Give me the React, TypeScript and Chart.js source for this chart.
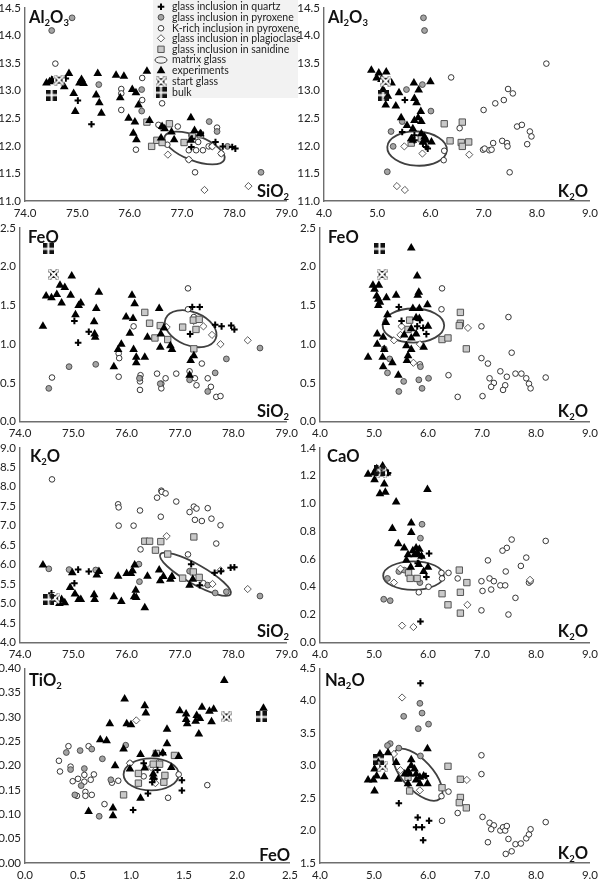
import React, { useEffect, useRef } from "react";
import { Chart, registerables } from "chart.js";
import { drawPoint } from "chart.js/helpers";

Chart.register(...registerables);

type Pt = [number, number];

// ---------- Al2O3 vs SiO2 ----------
const alSi_quartz: Pt[] = [[75.01,12.82],[75.27,12.39],[74.78,13.22],[74.52,13.2],[77.18,11.98],[77.19,12.13],[77.36,12.23],[77.64,12.07],[77.78,11.99],[77.96,11.98],[78.02,11.95]];
const alSi_pyrox: Pt[] = [[74.51,14.09],[74.9,14.32],[75.41,13.11],[76.23,13.02],[76.23,12.63],[77.52,12.44],[78.51,11.52],[77.67,12.26],[77.87,11.99]];
const alSi_krich: Pt[] = [[74.58,13.49],[75.84,13.03],[75.84,12.95],[75.84,12.65],[76.24,13.23],[76.24,12.83],[76.62,12.77],[76.12,11.93],[76.55,12.38],[76.62,12.33],[76.92,12.35],[77.67,12.33],[77.13,11.92],[77.27,11.92],[77.4,11.92],[77.13,11.75],[77.25,11.52],[77.31,12.07],[77.51,11.99],[77.57,11.99],[77.75,11.86],[77.18,12.19],[76.72,12.02],[76.62,12.07]];
const alSi_plag: Pt[] = [[76.73,11.84],[77.43,11.2],[78.27,11.27],[77.13,11.75],[77.75,11.86],[77.58,11.99]];
const alSi_san: Pt[] = [[76.33,12.43],[76.76,12.4],[76.42,11.99],[76.52,12.1],[76.62,12.06],[77.04,12.06],[77.2,12.17],[77.35,12.2]];
const alSi_exp: Pt[] = [[74.41,13.14],[74.47,13.16],[74.51,13.19],[74.75,13.07],[74.84,13.31],[74.93,12.95],[74.96,12.62],[75.08,13.2],[75.04,13.14],[75.12,13.13],[75.36,12.92],[75.39,13.31],[75.42,12.78],[75.46,12.59],[75.74,13.28],[75.89,13.26],[75.82,12.87],[75.98,12.5],[76.05,13.02],[76.12,12.96],[76.1,12.43],[76.07,12.23],[76.13,12.11],[76.17,12.74],[76.38,12.46],[76.33,13.35],[76.6,12.14],[76.62,12.35],[76.67,12.31],[76.85,12.11],[76.8,12.25],[77.17,12.51],[77.24,12.28],[77.17,12.1],[77.35,12.22]];
const alSi_start: Pt[] = [[74.65,13.19]];
const alSi_bulk: Pt[] = [[74.51,12.92]];

// ---------- Al2O3 vs K2O ----------
const alK_quartz: Pt[] = [[5.52,12.83],[5.47,12.25],[5.92,11.98],[5.7,12.19],[5.86,12.04],[5.7,12.1],[5.95,11.95]];
const alK_pyrox: Pt[] = [[5.87,14.32],[5.89,14.09],[5.55,13.02],[5.85,13.11],[6.01,12.63],[5.47,12.44],[5.26,12.26],[5.3,11.99],[5.19,11.53]];
const alK_krich: Pt[] = [[8.18,13.49],[7.46,13.03],[7.55,12.95],[7.38,12.83],[7.22,12.77],[7.0,12.65],[6.39,13.24],[6.55,12.32],[7.63,12.35],[7.72,12.38],[7.87,12.26],[7.9,12.17],[7.35,12.09],[7.44,12.05],[7.45,11.99],[7.82,12.03],[7.18,12.05],[6.99,11.93],[7.02,11.95],[7.11,11.92],[7.15,11.93],[6.26,11.91],[6.25,11.74],[7.49,11.52]];
const alK_plag: Pt[] = [[5.51,11.99],[5.85,11.86],[6.73,11.84],[5.37,11.27],[5.52,11.2]];
const alK_san: Pt[] = [[6.26,12.4],[6.6,12.43],[6.37,12.09],[6.58,12.06],[6.72,12.07],[6.6,11.99],[5.64,12.05],[5.83,12.13]];
const alK_exp: Pt[] = [[4.89,13.37],[5.03,13.32],[4.99,13.23],[5.17,13.34],[5.08,13.2],[5.27,13.14],[5.11,13.02],[5.2,12.9],[5.16,12.74],[5.35,12.72],[5.41,12.96],[5.69,13.14],[5.78,13.01],[6.0,13.16],[5.7,12.86],[5.74,12.78],[5.82,12.62],[5.45,12.51],[5.7,12.46],[5.83,12.44],[5.56,12.37],[5.67,12.31],[5.83,12.22],[5.64,12.13],[5.89,12.16],[5.67,12.1],[5.92,12.1],[6.02,12.07],[5.86,12.07],[5.77,12.51]];
const alK_start: Pt[] = [[5.16,13.17]];
const alK_bulk: Pt[] = [[5.11,12.92]];

// ---------- FeO vs SiO2 ----------
const feSi_quartz: Pt[] = [[75.02,1.3],[75.29,1.16],[75.09,1.02],[77.23,1.48],[77.37,1.48],[77.19,1.13],[77.66,1.25],[77.78,1.23],[77.96,1.24],[78.02,1.19]];
const feSi_pyrox: Pt[] = [[74.54,0.43],[74.92,0.71],[75.42,0.74],[76.24,0.56],[76.63,0.49],[77.18,0.54],[77.66,0.63],[77.52,0.39],[77.87,0.81],[78.5,0.95]];
const feSi_krich: Pt[] = [[74.6,0.57],[75.85,0.88],[75.86,0.82],[75.85,0.58],[76.13,1.23],[76.26,0.6],[76.25,0.56],[76.25,0.52],[76.25,0.41],[76.57,0.62],[76.65,0.49],[76.65,0.43],[76.73,0.56],[76.93,0.62],[77.15,1.72],[77.15,1.45],[77.26,1.35],[77.18,0.65],[77.28,0.56],[77.31,0.47],[77.41,0.75],[77.52,0.56],[77.58,0.45],[77.68,0.32],[77.76,0.33]];
const feSi_plag: Pt[] = [[76.75,1.22],[77.44,1.23],[77.6,1.12],[77.76,1.0],[78.27,1.05],[77.26,1.3]];
const feSi_san: Pt[] = [[76.34,1.41],[76.43,1.27],[76.63,1.24],[76.53,1.08],[76.77,1.06],[77.05,1.22],[77.25,1.31],[77.36,1.32],[77.3,1.19],[77.26,0.94]];
const feSi_exp: Pt[] = [[74.43,1.23],[74.49,1.62],[74.59,1.6],[74.69,1.64],[74.75,1.76],[74.84,1.73],[74.97,1.88],[74.95,1.63],[74.78,1.53],[75.04,1.38],[75.1,1.5],[75.14,1.53],[75.48,1.67],[75.43,1.46],[75.39,1.29],[75.4,1.13],[75.41,1.09],[75.76,0.71],[75.84,0.93],[75.9,1.0],[75.99,1.35],[76.12,1.33],[76.06,1.14],[76.1,1.63],[76.15,1.52],[76.13,0.93],[76.18,0.83],[76.18,0.76],[76.34,0.83],[76.39,1.09],[76.61,1.46],[76.64,1.13],[76.63,0.96],[76.7,1.21],[76.82,0.98],[76.85,0.93],[77.2,0.79],[77.26,0.85],[77.18,0.6]];
const feSi_start: Pt[] = [[74.63,1.9]];
const feSi_bulk: Pt[] = [[74.53,2.23]];

// ---------- FeO vs K2O ----------
const feK_quartz: Pt[] = [[5.46,1.48],[5.51,1.3],[5.8,1.23],[5.91,1.21],[5.97,1.13],[5.85,1.31]];
const feK_pyrox: Pt[] = [[5.29,0.81],[5.25,0.63],[5.55,0.52],[5.83,0.54],[6.01,0.56],[5.46,0.39],[5.89,0.43],[5.86,0.71],[5.19,0.94]];
const feK_krich: Pt[] = [[6.26,1.72],[6.25,1.45],[7.49,1.35],[6.99,1.23],[7.55,0.89],[6.99,0.82],[7.11,0.75],[7.34,0.65],[7.62,0.62],[7.73,0.62],[7.82,0.56],[7.87,0.49],[7.9,0.43],[8.18,0.57],[7.46,0.58],[7.14,0.56],[7.22,0.5],[7.17,0.45],[7.43,0.47],[7.39,0.41],[6.38,0.6],[6.55,0.32],[7.01,0.33],[5.85,0.74]];
const feK_plag: Pt[] = [[6.74,1.21],[5.51,1.23],[5.49,1.12],[5.37,1.05],[5.85,1.0],[5.73,0.76]];
const feK_san: Pt[] = [[6.6,1.41],[6.6,1.27],[6.58,1.24],[6.26,1.06],[6.37,1.08],[6.71,0.94],[5.66,1.31],[5.63,1.19]];
const feK_exp: Pt[] = [[5.69,2.24],[5.8,1.88],[4.98,1.76],[5.09,1.76],[5.01,1.71],[5.83,1.67],[5.81,1.63],[5.41,1.63],[5.23,1.6],[5.05,1.62],[5.08,1.58],[5.11,1.54],[5.08,1.5],[5.99,1.51],[5.72,1.46],[5.84,1.46],[5.25,1.38],[5.22,1.28],[5.78,1.34],[5.84,1.33],[6.0,1.23],[5.69,1.2],[5.06,1.13],[5.56,1.12],[5.78,1.13],[5.17,1.09],[5.69,1.08],[5.06,1.0],[5.6,0.98],[5.69,0.93],[5.92,0.96],[5.19,0.93],[4.89,0.83],[5.16,0.83],[5.63,0.85],[5.61,0.79],[5.34,0.76],[5.17,0.71],[5.45,0.6]];
const feK_start: Pt[] = [[5.15,1.9]];
const feK_bulk: Pt[] = [[5.1,2.23]];

// ---------- K2O vs SiO2 ----------
const kSi_quartz: Pt[] = [[75.09,5.87],[75.29,5.82],[75.02,5.52],[74.59,5.26],[77.21,6.01],[77.37,5.47],[77.65,5.79],[77.77,5.83],[77.95,5.92],[78.02,5.93]];
const kSi_pyrox: Pt[] = [[74.54,5.89],[74.92,5.87],[75.42,5.86],[76.23,6.01],[76.24,5.56],[77.18,5.83],[77.52,5.47],[77.66,5.27],[77.87,5.3],[78.5,5.19]];
const kSi_krich: Pt[] = [[74.6,8.19],[75.84,7.55],[75.85,7.47],[75.85,7.0],[76.13,7.0],[76.25,7.39],[76.57,7.72],[76.65,7.9],[76.66,7.87],[76.73,7.83],[76.93,7.62],[76.64,7.23],[77.18,7.35],[77.26,7.49],[77.31,7.44],[77.52,7.45],[77.28,7.15],[77.41,7.12],[77.59,7.18],[77.76,7.01],[77.68,6.54],[76.26,6.39],[77.15,6.26],[77.44,5.52]];
const kSi_plag: Pt[] = [[76.75,6.73],[77.61,5.5],[77.76,5.85],[78.27,5.37]];
const kSi_san: Pt[] = [[76.34,6.6],[76.43,6.6],[76.64,6.59],[76.54,6.37],[76.77,6.27],[77.26,6.71],[77.05,5.65],[77.25,5.81],[77.36,5.67]];
const kSi_exp: Pt[] = [[74.43,5.99],[74.98,5.79],[74.94,5.41],[75.03,5.24],[74.78,5.1],[74.74,5.0],[74.84,5.02],[75.1,5.1],[75.14,5.1],[75.39,5.22],[75.4,5.1],[75.44,5.73],[75.48,5.82],[75.76,5.17],[75.9,5.05],[75.84,5.7],[76.0,5.77],[76.08,5.77],[76.11,5.84],[76.15,5.99],[76.17,5.34],[76.14,5.17],[76.18,5.15],[76.34,4.89],[76.39,5.7],[76.61,5.86],[76.63,5.58],[76.69,5.69],[76.82,5.62],[76.85,5.69],[77.18,5.47],[77.24,5.62]];
const kSi_start: Pt[] = [[74.65,5.13]];
const kSi_bulk: Pt[] = [[74.54,5.1]];

// ---------- CaO vs K2O ----------
const caK_quartz: Pt[] = [[6.02,0.64],[5.88,0.62],[5.81,0.57],[5.97,0.47],[5.86,0.15],[5.26,1.22]];
const caK_pyrox: Pt[] = [[5.89,0.85],[5.86,0.75],[5.46,0.51],[5.56,0.52],[5.25,0.46],[5.85,0.43],[5.18,0.31],[5.3,0.3]];
const caK_krich: Pt[] = [[8.18,0.73],[7.55,0.74],[7.46,0.68],[7.38,0.66],[7.11,0.59],[7.82,0.61],[7.72,0.55],[7.44,0.51],[6.38,0.5],[6.55,0.46],[6.25,0.5],[6.26,0.46],[6.99,0.44],[7.14,0.46],[7.22,0.44],[7.34,0.41],[7.43,0.41],[7.87,0.43],[7.9,0.44],[7.01,0.37],[7.17,0.38],[7.62,0.32],[6.99,0.23],[7.49,0.2],[5.83,0.36],[6.01,0.4]];
const caK_plag: Pt[] = [[5.49,0.53],[5.37,0.43],[5.52,0.12],[5.73,0.11],[6.73,0.27],[7.89,0.45]];
const caK_san: Pt[] = [[6.58,0.52],[5.64,0.5],[5.67,0.46],[5.8,0.46],[6.72,0.43],[6.26,0.35],[6.6,0.36],[6.37,0.27],[6.6,0.21]];
const caK_exp: Pt[] = [[4.89,1.21],[5.05,1.25],[5.16,1.27],[5.0,1.22],[5.24,1.22],[5.01,1.17],[5.19,1.14],[5.11,1.07],[5.21,1.08],[5.41,1.01],[5.99,1.1],[5.69,0.86],[5.34,0.82],[5.69,0.79],[5.45,0.71],[5.56,0.68],[5.63,0.63],[5.72,0.66],[5.78,0.68],[5.84,0.67],[5.75,0.63],[5.81,0.64],[5.88,0.62],[5.6,0.59],[5.83,0.56],[5.68,0.54],[6.0,0.54],[5.92,0.51]];
const caK_start: Pt[] = [[5.14,1.22]];
const caK_bulk: Pt[] = [[5.1,1.24]];

// ---------- TiO2 vs FeO ----------
const tiFe_quartz: Pt[] = [[1.02,0.109],[1.16,0.143],[1.48,0.149],[1.48,0.17],[1.2,0.166],[1.25,0.191],[1.22,0.173],[1.3,0.226],[1.12,0.205]];
const tiFe_pyrox: Pt[] = [[0.39,0.227],[0.52,0.231],[0.63,0.234],[0.95,0.242],[0.73,0.214],[0.43,0.192],[0.56,0.194],[0.53,0.159],[0.81,0.171],[0.47,0.14],[0.7,0.096]];
const tiFe_krich: Pt[] = [[0.41,0.24],[0.6,0.24],[0.32,0.21],[0.33,0.188],[0.43,0.198],[0.45,0.168],[0.5,0.173],[0.56,0.181],[0.56,0.167],[0.65,0.182],[0.62,0.171],[0.82,0.165],[0.88,0.169],[0.49,0.138],[0.57,0.146],[0.57,0.138],[0.63,0.14],[0.75,0.121],[1.35,0.134],[1.72,0.16],[1.12,0.178],[1.45,0.182],[0.99,0.205]];
const tiFe_plag: Pt[] = [[1.05,0.293],[0.99,0.205],[1.23,0.164],[1.19,0.197],[1.25,0.205]];
const tiFe_san: Pt[] = [[0.93,0.14],[1.07,0.184],[1.07,0.164],[1.24,0.225],[1.21,0.203],[1.27,0.203],[1.32,0.18],[1.31,0.166],[1.41,0.221]];
const tiFe_exp: Pt[] = [[1.88,0.375],[0.94,0.337],[1.13,0.323],[1.14,0.308],[0.96,0.286],[1.0,0.284],[0.8,0.286],[0.71,0.253],[0.77,0.251],[0.93,0.234],[1.34,0.275],[1.34,0.245],[1.46,0.313],[1.52,0.306],[1.52,0.295],[1.53,0.286],[1.62,0.303],[1.65,0.297],[1.61,0.291],[1.64,0.265],[1.67,0.32],[1.74,0.312],[1.78,0.316],[1.76,0.29],[2.25,0.318],[1.09,0.223],[1.23,0.224],[1.3,0.226],[1.45,0.219],[0.85,0.2],[0.99,0.193],[1.13,0.195],[1.38,0.196],[1.09,0.133],[0.83,0.113],[0.6,0.106],[0.83,0.097],[1.21,0.183],[1.21,0.176]];
const tiFe_start: Pt[] = [[1.9,0.3]];
const tiFe_bulk: Pt[] = [[2.23,0.3]];

// ---------- Na2O vs K2O ----------
const naK_quartz: Pt[] = [[5.86,4.27],[5.46,2.42],[5.81,2.2],[6.02,2.15],[5.78,2.05],[5.89,2.05],[5.91,1.85],[5.96,2.84]];
const naK_pyrox: Pt[] = [[5.85,3.96],[5.89,3.81],[5.55,3.76],[6.01,3.64],[5.82,3.57],[5.3,3.34],[5.25,3.31],[5.46,3.27],[5.86,3.15]];
const naK_krich: Pt[] = [[6.99,3.16],[6.99,2.87],[6.25,2.53],[6.38,2.6],[6.55,2.27],[6.26,2.15],[7.01,2.21],[7.14,2.12],[7.22,2.08],[7.17,2.02],[7.34,2.0],[7.39,2.05],[7.43,2.0],[7.46,2.07],[7.11,1.82],[7.49,1.87],[7.62,1.79],[7.72,1.8],[7.82,1.88],[7.87,1.94],[7.9,2.02],[8.18,2.13],[7.55,1.68],[7.44,1.64]];
const naK_plag: Pt[] = [[5.52,4.05],[6.72,2.78],[5.49,2.93],[5.37,3.18],[5.85,2.62]];
const naK_san: Pt[] = [[6.37,2.99],[6.6,2.79],[6.26,2.66],[6.6,2.51],[6.58,2.43],[6.71,2.35],[5.66,2.61],[5.63,2.82]];
const naK_exp: Pt[] = [[4.89,2.78],[4.99,2.78],[5.01,2.61],[5.05,2.84],[5.19,2.83],[5.11,3.18],[5.26,3.2],[5.01,2.95],[5.08,3.05],[5.41,3.05],[5.45,2.79],[5.99,3.26],[5.69,3.09],[5.69,3.0],[5.63,2.92],[5.75,2.95],[5.57,2.87],[5.66,2.87],[5.78,2.87],[5.85,2.82],[5.92,2.84],[5.78,2.78],[5.63,2.72],[5.85,2.72],[5.99,2.72]];
const naK_start: Pt[] = [[5.16,2.99]];
const naK_bulk: Pt[] = [[5.09,3.1]];

// Matrix-glass ellipses in data units: centre, end of major axis, end of minor axis
const ellipseAlSi: Pt[] = [[77.24,11.96],[77.81,11.75],[77.33,12.17]];
const ellipseAlK: Pt[] = [[5.75,11.95],[6.31,11.92],[5.75,12.26]];
const ellipseFeSi: Pt[] = [[77.2,1.2],[77.67,1.07],[77.32,1.4]];
const ellipseFeK: Pt[] = [[5.73,1.24],[6.3,1.24],[5.73,1.46]];
const ellipseKSi: Pt[] = [[77.29,5.75],[77.95,5.24],[77.38,5.97]];
const ellipseCaK: Pt[] = [[5.73,0.48],[6.29,0.48],[5.73,0.583]];
const ellipseTiFe: Pt[] = [[1.19,0.182],[1.45,0.182],[1.19,0.215]];
const ellipseNaK: Pt[] = [[5.81,2.86],[6.22,2.49],[6.02,3.01]];

const legendLabels = [
  "glass inclusion in quartz",
  "glass inclusion in pyroxene",
  "K-rich inclusion in pyroxene",
  "glass inclusion in plagioclase",
  "glass inclusion in sanidine",
  "matrix glass",
  "experiments",
  "start glass",
  "bulk",
];

const FONT = "Lato, 'Open Sans', sans-serif";
const TICK = "#222222";
const AXIS = "#6e6e6e";

function makeStart(): HTMLCanvasElement {
  const c = document.createElement("canvas");
  c.width = 11; c.height = 11;
  const g = c.getContext("2d")!;
  g.fillStyle = "#111";
  g.fillRect(0.5, 0.5, 10, 10);
  g.strokeStyle = "#fff";
  g.lineWidth = 1.8;
  g.beginPath();
  g.moveTo(1, 1); g.lineTo(10, 10);
  g.moveTo(10, 1); g.lineTo(1, 10);
  g.stroke();
  g.fillStyle = "#fff";
  g.fillRect(3.5, 0, 4, 2); g.fillRect(3.5, 9, 4, 2);
  g.fillRect(0, 3.5, 2, 4); g.fillRect(9, 3.5, 2, 4);
  g.fillRect(4, 4, 3, 3);
  return c;
}
function makeBulk(): HTMLCanvasElement {
  const c = document.createElement("canvas");
  c.width = 11; c.height = 11;
  const g = c.getContext("2d")!;
  g.fillStyle = "#111";
  g.fillRect(0, 0, 4.5, 4.5); g.fillRect(6.5, 0, 4.5, 4.5);
  g.fillRect(0, 6.5, 4.5, 4.5); g.fillRect(6.5, 6.5, 4.5, 4.5);
  return c;
}

type Series = Pt[][];
function seriesStyles() {
  const start = makeStart();
  const bulk = makeBulk();
  return [
    { pointStyle: "cross", radius: 3.3, borderWidth: 2, borderColor: "#000", backgroundColor: "#000", order: 3 },
    { pointStyle: "circle", radius: 2.9, borderWidth: 0.9, borderColor: "#444", backgroundColor: "#a4a4a4", order: 6 },
    { pointStyle: "circle", radius: 2.8, borderWidth: 0.9, borderColor: "#222", backgroundColor: "#fff", order: 7 },
    { pointStyle: "rectRot", radius: 3.6, borderWidth: 0.8, borderColor: "#333", backgroundColor: "#fff", order: 5 },
    { pointStyle: "rect", radius: 4.5, borderWidth: 1, borderColor: "#555", backgroundColor: "#c9c9c9", order: 4 },
    { pointStyle: "triangle", radius: 5, borderWidth: 0, borderColor: "#000", backgroundColor: "#000", order: 2 },
    { pointStyle: start, radius: 5, borderWidth: 0, borderColor: "#000", backgroundColor: "#000", order: 1 },
    { pointStyle: bulk, radius: 5, borderWidth: 0, borderColor: "#000", backgroundColor: "#000", order: 0 },
  ];
}

type Part = [string, boolean];
interface Panel {
  box: [number, number, number, number]; // canvas left, top, right, bottom
  plot: [number, number, number, number]; // plot left, top, right, bottom
  x: [number, number, number];
  y: [number, number, number];
  yDigits: number;
  yTitle: Part[]; yTitleAt: [number, number];
  xTitle: Part[]; xTitleAt: [number, number];
  series: Series;
  ellipse: Pt[];
  legend?: boolean;
}

const AL2O3: Part[] = [["Al", false], ["2", true], ["O", false], ["3", true]];
const SIO2: Part[] = [["SiO", false], ["2", true]];
const K2O: Part[] = [["K", false], ["2", true], ["O", false]];
const FEO: Part[] = [["FeO", false]];
const CAO: Part[] = [["CaO", false]];
const TIO2: Part[] = [["TiO", false], ["2", true]];
const NA2O: Part[] = [["Na", false], ["2", true], ["O", false]];

const panels: Panel[] = [
  { box: [0, 0, 300, 220], plot: [25, 6, 288, 201], x: [74, 79, 1], y: [11, 14.5, 0.5], yDigits: 1,
    yTitle: AL2O3, yTitleAt: [29, 23], xTitle: SIO2, xTitleAt: [289, 197], ellipse: ellipseAlSi, legend: true,
    series: [alSi_quartz, alSi_pyrox, alSi_krich, alSi_plag, alSi_san, alSi_exp, alSi_start, alSi_bulk] },
  { box: [296, 0, 600, 220], plot: [324, 6, 591, 201], x: [4, 9, 1], y: [11, 14.5, 0.5], yDigits: 1,
    yTitle: AL2O3, yTitleAt: [328, 23], xTitle: K2O, xTitleAt: [588, 197], ellipse: ellipseAlK,
    series: [alK_quartz, alK_pyrox, alK_krich, alK_plag, alK_san, alK_exp, alK_start, alK_bulk] },
  { box: [0, 220, 300, 440], plot: [20, 227, 288.7, 421.7], x: [74, 79, 1], y: [0, 2.5, 0.5], yDigits: 1,
    yTitle: FEO, yTitleAt: [28, 243], xTitle: SIO2, xTitleAt: [289, 417], ellipse: ellipseFeSi,
    series: [feSi_quartz, feSi_pyrox, feSi_krich, feSi_plag, feSi_san, feSi_exp, feSi_start, feSi_bulk] },
  { box: [296, 220, 600, 440], plot: [320, 227, 591, 421.7], x: [4, 9, 1], y: [0, 2.5, 0.5], yDigits: 1,
    yTitle: FEO, yTitleAt: [328, 243], xTitle: K2O, xTitleAt: [588, 417], ellipse: ellipseFeK,
    series: [feK_quartz, feK_pyrox, feK_krich, feK_plag, feK_san, feK_exp, feK_start, feK_bulk] },
  { box: [0, 440, 300, 659], plot: [20, 447.7, 288.7, 642.3], x: [74, 79, 1], y: [4, 9, 0.5], yDigits: 1,
    yTitle: K2O, yTitleAt: [30, 462], xTitle: SIO2, xTitleAt: [289, 637], ellipse: ellipseKSi,
    series: [kSi_quartz, kSi_pyrox, kSi_krich, kSi_plag, kSi_san, kSi_exp, kSi_start, kSi_bulk] },
  { box: [296, 440, 600, 659], plot: [320, 447.7, 591, 642.3], x: [4, 9, 1], y: [0, 1.4, 0.2], yDigits: 1,
    yTitle: CAO, yTitleAt: [327, 462], xTitle: K2O, xTitleAt: [588, 637], ellipse: ellipseCaK,
    series: [caK_quartz, caK_pyrox, caK_krich, caK_plag, caK_san, caK_exp, caK_start, caK_bulk] },
  { box: [0, 659, 300, 879], plot: [25, 668.3, 291, 863], x: [0, 2.5, 0.5], y: [0, 0.4, 0.05], yDigits: 2,
    yTitle: TIO2, yTitleAt: [29, 686], xTitle: FEO, xTitleAt: [290, 861], ellipse: ellipseTiFe,
    series: [tiFe_quartz, tiFe_pyrox, tiFe_krich, tiFe_plag, tiFe_san, tiFe_exp, tiFe_start, tiFe_bulk] },
  { box: [296, 659, 600, 879], plot: [320, 668.3, 591, 863], x: [4, 9, 1], y: [1.5, 4.5, 0.5], yDigits: 1,
    yTitle: NA2O, yTitleAt: [325, 686], xTitle: K2O, xTitleAt: [588, 859], ellipse: ellipseNaK,
    series: [naK_quartz, naK_pyrox, naK_krich, naK_plag, naK_san, naK_exp, naK_start, naK_bulk] },
];

function drawParts(ctx: CanvasRenderingContext2D, parts: Part[], x: number, y: number, rightAlign: boolean) {
  const big = `700 16.5px ${FONT}`;
  const small = `700 9.5px ${FONT}`;
  ctx.save();
  ctx.fillStyle = "#111";
  ctx.textAlign = "left";
  ctx.textBaseline = "alphabetic";
  let width = 0;
  for (const [t, sub] of parts) {
    ctx.font = sub ? small : big;
    width += ctx.measureText(t).width;
  }
  let cx = rightAlign ? x - width : x;
  for (const [t, sub] of parts) {
    ctx.font = sub ? small : big;
    ctx.fillText(t, cx, sub ? y + 3 : y);
    cx += ctx.measureText(t).width;
  }
  ctx.restore();
}

function drawEllipse(ctx: CanvasRenderingContext2D, xs: any, ys: any, e: Pt[], lineWidth: number) {
  const px = e.map(([a, b]) => [xs.getPixelForValue(a), ys.getPixelForValue(b)]);
  const [c, m, n] = px;
  const rx = Math.hypot(m[0] - c[0], m[1] - c[1]);
  const ry = Math.hypot(n[0] - c[0], n[1] - c[1]);
  const rot = Math.atan2(m[1] - c[1], m[0] - c[0]);
  ctx.save();
  ctx.strokeStyle = "#404040";
  ctx.lineWidth = lineWidth;
  ctx.beginPath();
  ctx.ellipse(c[0], c[1], rx, ry, rot, 0, Math.PI * 2);
  ctx.stroke();
  ctx.restore();
}

function PanelChart({ panel }: { panel: Panel }) {
  const ref = useRef<HTMLCanvasElement>(null);
  useEffect(() => {
    const styles = seriesStyles();
    const [bl, bt, br, bb] = panel.box;
    const [pl, pt, pr, pb] = panel.plot;
    const overlay = {
      id: "panelOverlay",
      beforeDatasetsDraw(chart: any) {
        const ctx = chart.ctx as CanvasRenderingContext2D;
        if (panel.legend) {
          ctx.save();
          ctx.fillStyle = "#f2f2f2";
          ctx.fillRect(153, 0, 145, 98);
          const rows = [6.7, 17.3, 28.3, 38.3, 49.3, 60, 70.7, 81.7, 92.7];
          const seriesIdx = [0, 1, 2, 3, 4, -1, 5, 6, 7];
          rows.forEach((y, i) => {
            ctx.font = `10.5px ${FONT}`;
            ctx.fillStyle = "#222";
            ctx.textAlign = "left";
            ctx.textBaseline = "middle";
            ctx.fillText(legendLabels[i], 172, y);
            const si = seriesIdx[i];
            if (si < 0) {
              ctx.strokeStyle = "#404040";
              ctx.lineWidth = 1;
              ctx.beginPath();
              ctx.ellipse(161, y, 6, 3.2, 0, 0, Math.PI * 2);
              ctx.stroke();
            } else {
              const st = styles[si];
              ctx.fillStyle = st.backgroundColor;
              ctx.strokeStyle = st.borderColor;
              ctx.lineWidth = st.borderWidth;
              drawPoint(ctx, { pointStyle: st.pointStyle as any, radius: st.radius, borderWidth: st.borderWidth, rotation: 0 } as any, 161, y);
            }
          });
          ctx.restore();
        }
        drawEllipse(ctx, chart.scales.x, chart.scales.y, panel.ellipse, 1.8);
      },
      afterDraw(chart: any) {
        const ctx = chart.ctx as CanvasRenderingContext2D;
        drawParts(ctx, panel.yTitle, panel.yTitleAt[0] - bl, panel.yTitleAt[1] - bt, false);
        drawParts(ctx, panel.xTitle, panel.xTitleAt[0] - bl, panel.xTitleAt[1] - bt, true);
      },
    };
    const names = ["glass inclusion in quartz", "glass inclusion in pyroxene", "K-rich inclusion in pyroxene", "glass inclusion in plagioclase", "glass inclusion in sanidine", "experiments", "start glass", "bulk"];
    const chart = new Chart(ref.current!, {
      type: "scatter",
      data: {
        datasets: panel.series.map((pts, i) => ({
          label: names[i],
          data: pts.map(([x, y]) => ({ x, y })),
          pointStyle: styles[i].pointStyle as any,
          pointRadius: styles[i].radius,
          pointBorderWidth: styles[i].borderWidth,
          pointBorderColor: styles[i].borderColor,
          pointBackgroundColor: styles[i].backgroundColor,
          order: styles[i].order,
          clip: false as any,
        })),
      },
      options: {
        animation: false,
        responsive: false,
        devicePixelRatio: 1,
        layout: { padding: { left: 0, top: pt - bt, right: br - pr, bottom: 0 } },
        plugins: { legend: { display: false }, tooltip: { enabled: false } },
        scales: {
          x: {
            type: "linear",
            min: panel.x[0], max: panel.x[1],
            afterFit(scale: any) { scale.height = bb - pb; },
            afterBuildTicks(scale: any) { scale.ticks = buildTicks(panel.x); },
            grid: { display: false, drawTicks: true, tickLength: 3, tickColor: AXIS },
            border: { color: AXIS, width: 1.4 },
            ticks: { font: { family: FONT, size: 11.5 }, color: TICK, padding: 2, maxRotation: 0, autoSkip: false,
              callback: (v: any) => Number(v).toFixed(1) },
          },
          y: {
            type: "linear",
            min: panel.y[0], max: panel.y[1],
            afterFit(scale: any) { scale.width = pl - bl; },
            afterBuildTicks(scale: any) { scale.ticks = buildTicks(panel.y); },
            grid: { display: false, drawTicks: true, tickLength: 3, tickColor: AXIS },
            border: { color: AXIS, width: 1.4 },
            ticks: { font: { family: FONT, size: 11.5 }, color: TICK, padding: 1, autoSkip: false,
              callback: (v: any) => Number(v).toFixed(panel.yDigits) },
          },
        },
      },
      plugins: [overlay],
    } as any);
    return () => chart.destroy();
  }, [panel]);
  const [bl, bt, br, bb] = panel.box;
  return (
    <canvas
      ref={ref}
      width={br - bl}
      height={bb - bt}
      style={{ position: "absolute", left: bl, top: bt, width: br - bl, height: bb - bt }}
    />
  );
}

function buildTicks(r: [number, number, number]) {
  const [min, max, step] = r;
  const n = Math.round((max - min) / step);
  const out: { value: number }[] = [];
  for (let i = 0; i <= n; i++) out.push({ value: +(min + i * step).toFixed(4) });
  return out;
}

export default function App() {
  return (
    <div style={{ position: "absolute", left: 0, top: 0, width: 600, height: 879, overflow: "hidden", background: "#fff" }}>
      {panels.map((p, i) => (
        <PanelChart key={i} panel={p} />
      ))}
    </div>
  );
}
